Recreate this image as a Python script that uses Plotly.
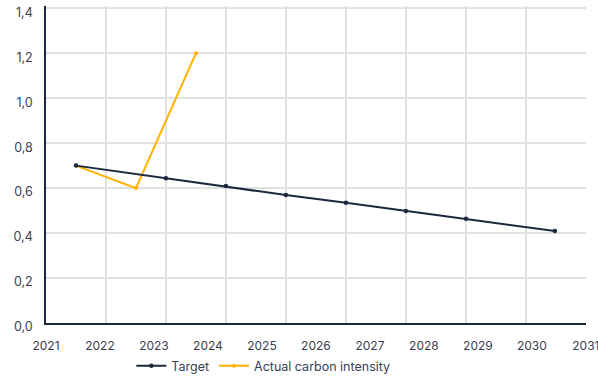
import plotly.graph_objects as go

# Data (decimal-year positions)
target_x = [2021.556, 2023.222, 2024.333, 2025.444, 2026.556, 2027.667, 2028.778, 2030.426]
target_y = [0.70, 0.644, 0.609, 0.569, 0.535, 0.498, 0.464, 0.409]
actual_x = [2021.556, 2022.667, 2023.778]
actual_y = [0.70, 0.60, 1.20]
x_ticks = [2021, 2022, 2023, 2024, 2025, 2026, 2027, 2028, 2029, 2030, 2031]
y_ticks = [0.0, 0.2, 0.4, 0.6, 0.8, 1.0, 1.2, 1.4]
y_labels = ["0,0", "0,2", "0,4", "0,6", "0,8", "1,0", "1,2", "1,4"]

NAVY = "#1c2840"
GOLD = "#FFB300"
TXT = "#3a4050"
GRID = "#e1e1e1"
FONT = "Inter, Lato, sans-serif"

fig = go.Figure()
fig.add_trace(go.Scatter(x=actual_x, y=actual_y, name="Actual carbon intensity", mode="lines+markers",
                         line=dict(color=GOLD, width=2), marker=dict(color=GOLD, size=4),
                         legendrank=2))
fig.add_trace(go.Scatter(x=target_x, y=target_y, name="Target", mode="lines+markers",
                         line=dict(color=NAVY, width=2), marker=dict(color=NAVY, size=4.5),
                         legendrank=1))
# invisible trace to activate the grid axis
fig.add_trace(go.Scatter(x=[0], y=[0], xaxis="x2", mode="markers", marker=dict(opacity=0),
                         showlegend=False, hoverinfo="skip"))

fig.update_layout(
    width=598, height=376,
    margin=dict(l=46, r=12, t=6, b=53, autoexpand=False),
    paper_bgcolor="white", plot_bgcolor="white",
    font=dict(family=FONT, size=12, color=TXT),
    showlegend=True,
    legend=dict(orientation="h", x=0.158, xanchor="left", y=-0.089, yanchor="top",
                font=dict(size=12.5, color=TXT), itemwidth=30, tracegroupgap=0,
                traceorder="normal"),
    xaxis=dict(range=[2021, 2031.002], tickvals=x_ticks, ticktext=[str(v) for v in x_ticks],
               showgrid=False, zeroline=False, showline=True, linecolor=NAVY, linewidth=1.5,
               ticks="", ticklabelstandoff=11, ticklabeloverflow="allow",
               tickfont=dict(size=12, color=TXT)),
    xaxis2=dict(range=[0, 9.002], dtick=1, overlaying="x", side="bottom", showgrid=True,
                gridcolor=GRID, gridwidth=1.5, showticklabels=False, zeroline=False,
                showline=False, ticks=""),
    yaxis=dict(range=[0, 1.41], tickvals=y_ticks, ticktext=y_labels, showgrid=True,
               gridcolor=GRID, gridwidth=1.5, zeroline=False, showline=True, linecolor=NAVY,
               linewidth=1.5, ticks="", ticklabelstandoff=9, ticklabelshift=4,
               ticklabeloverflow="allow", tickfont=dict(size=12.5, color=TXT)),
)
fig.write_html("out.html")
